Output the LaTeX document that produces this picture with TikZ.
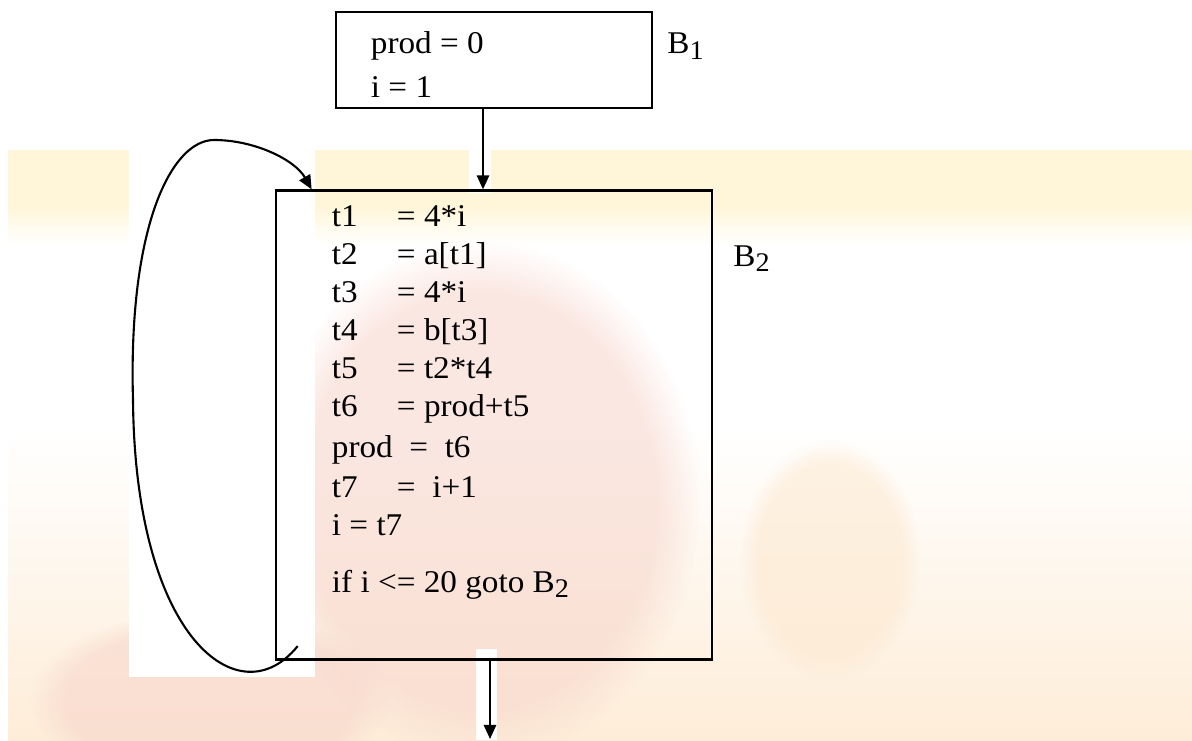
\documentclass[tikz,border=0pt]{standalone}
\usepackage{fontspec}
\setmainfont{Liberation Serif}[FakeStretch=1.05]
\usetikzlibrary{arrows.meta,positioning,calc,fadings}
\definecolor{bandyellow}{RGB}{255,246,218}
\definecolor{hazepink}{RGB}{247,212,202}
\definecolor{hazepeach}{RGB}{253,232,206}
\newcommand\asg[2]{\makebox[1.3cm][l]{#1}= #2}
\newcommand\blk[1]{B\raisebox{-0.35ex}{\scalebox{0.85}{#1}}}

\begin{document}
\begin{tikzpicture}[
      x=0.02cm, y=-0.02cm,
      mybox/.style={draw, line width=1.6pt, inner sep=0pt},
      mycode/.style={
         align=left,
         inner sep=0pt,
         font=\fontsize{18}{21.6}\selectfont},
      mylabel/.style={inner sep=0pt, font=\fontsize{18}{21.6}\selectfont},
      myarrow/.style={-{Triangle[length=8pt,width=7pt]}, line width=1.2pt},
      haze/.style={path fading=circle with fuzzy edge 20 percent, fill opacity=0.55}
      ]
      \useasboundingbox (0,0) rectangle (1192,740);

      % washed-out backdrop
      \fill[bandyellow] (8,150) rectangle (1192,208);
      \shade[top color=bandyellow, bottom color=white] (8,208) rectangle (1192,245);
      \shade[top color=white, bottom color=hazepeach!80] (8,430) rectangle (1192,740);
      \fill[hazepink, haze] (480,500) ellipse [x radius=220, y radius=260];
      \fill[hazepink, haze] (210,700) ellipse [x radius=180, y radius=90];
      \fill[hazepeach, haze] (830,560) ellipse [x radius=90, y radius=120];
      \fill[white] (129,150) rectangle (315,677);
      \fill[white] (469,150) rectangle (491,193);
      \fill[white] (476,649) rectangle (497,740);

      \node[mybox, minimum width=6.32cm, minimum height=1.92cm] (b1) at (494,60) {};
      \node[mybox, minimum width=8.72cm, minimum height=9.38cm, below=1.6cm of b1] (b2) {};

      \node[mycode, below right=0.42cm and 0.72cm of b1.north west] (b1code)
         {prod = 0\\[3.4pt]i = 1};
      \node[mycode, below right=0.32cm and 1.14cm of b2.north west] (b2code) {%
         \asg{t1}{4*i}\\
         \asg{t2}{a[t1]}\\
         \asg{t3}{4*i}\\
         \asg{t4}{b[t3]}\\
         \asg{t5}{t2*t4}\\
         \asg{t6}{prod+t5}\\[1.7pt]
         prod\ \ =\ \ t6\\[1.2pt]
         \asg{t7}{\ i+1}\\
         i = t7\\[10.8pt]
         if i <= 20 goto \blk{2}};

      \node[mylabel, anchor=base west] (lab1) at (667,54) {\blk{1}};
      \node[mylabel, anchor=base west] (lab2) at (733,266) {\blk{2}};

      \coordinate (loopin) at ($(b2.south west)+(23,-15)$);
      \coordinate (loopout) at ($(b2.north west)+(37,0)$);
      \coordinate (out) at (490,739);

      \draw[myarrow] ($(b1.south)+(-11,0)$) -- ($(b2.north)+(-11,0)$);
      \draw[myarrow] (b2.south -| out) -- (out);

      % back edge of the loop
      \draw[myarrow] (loopin) .. controls (240,718) and (135,640) .. (133,400)
         .. controls (128,225) and (172,140) .. (214,140)
         .. controls (255,140) and (295,160) .. (loopout);
\end{tikzpicture}
\end{document}
